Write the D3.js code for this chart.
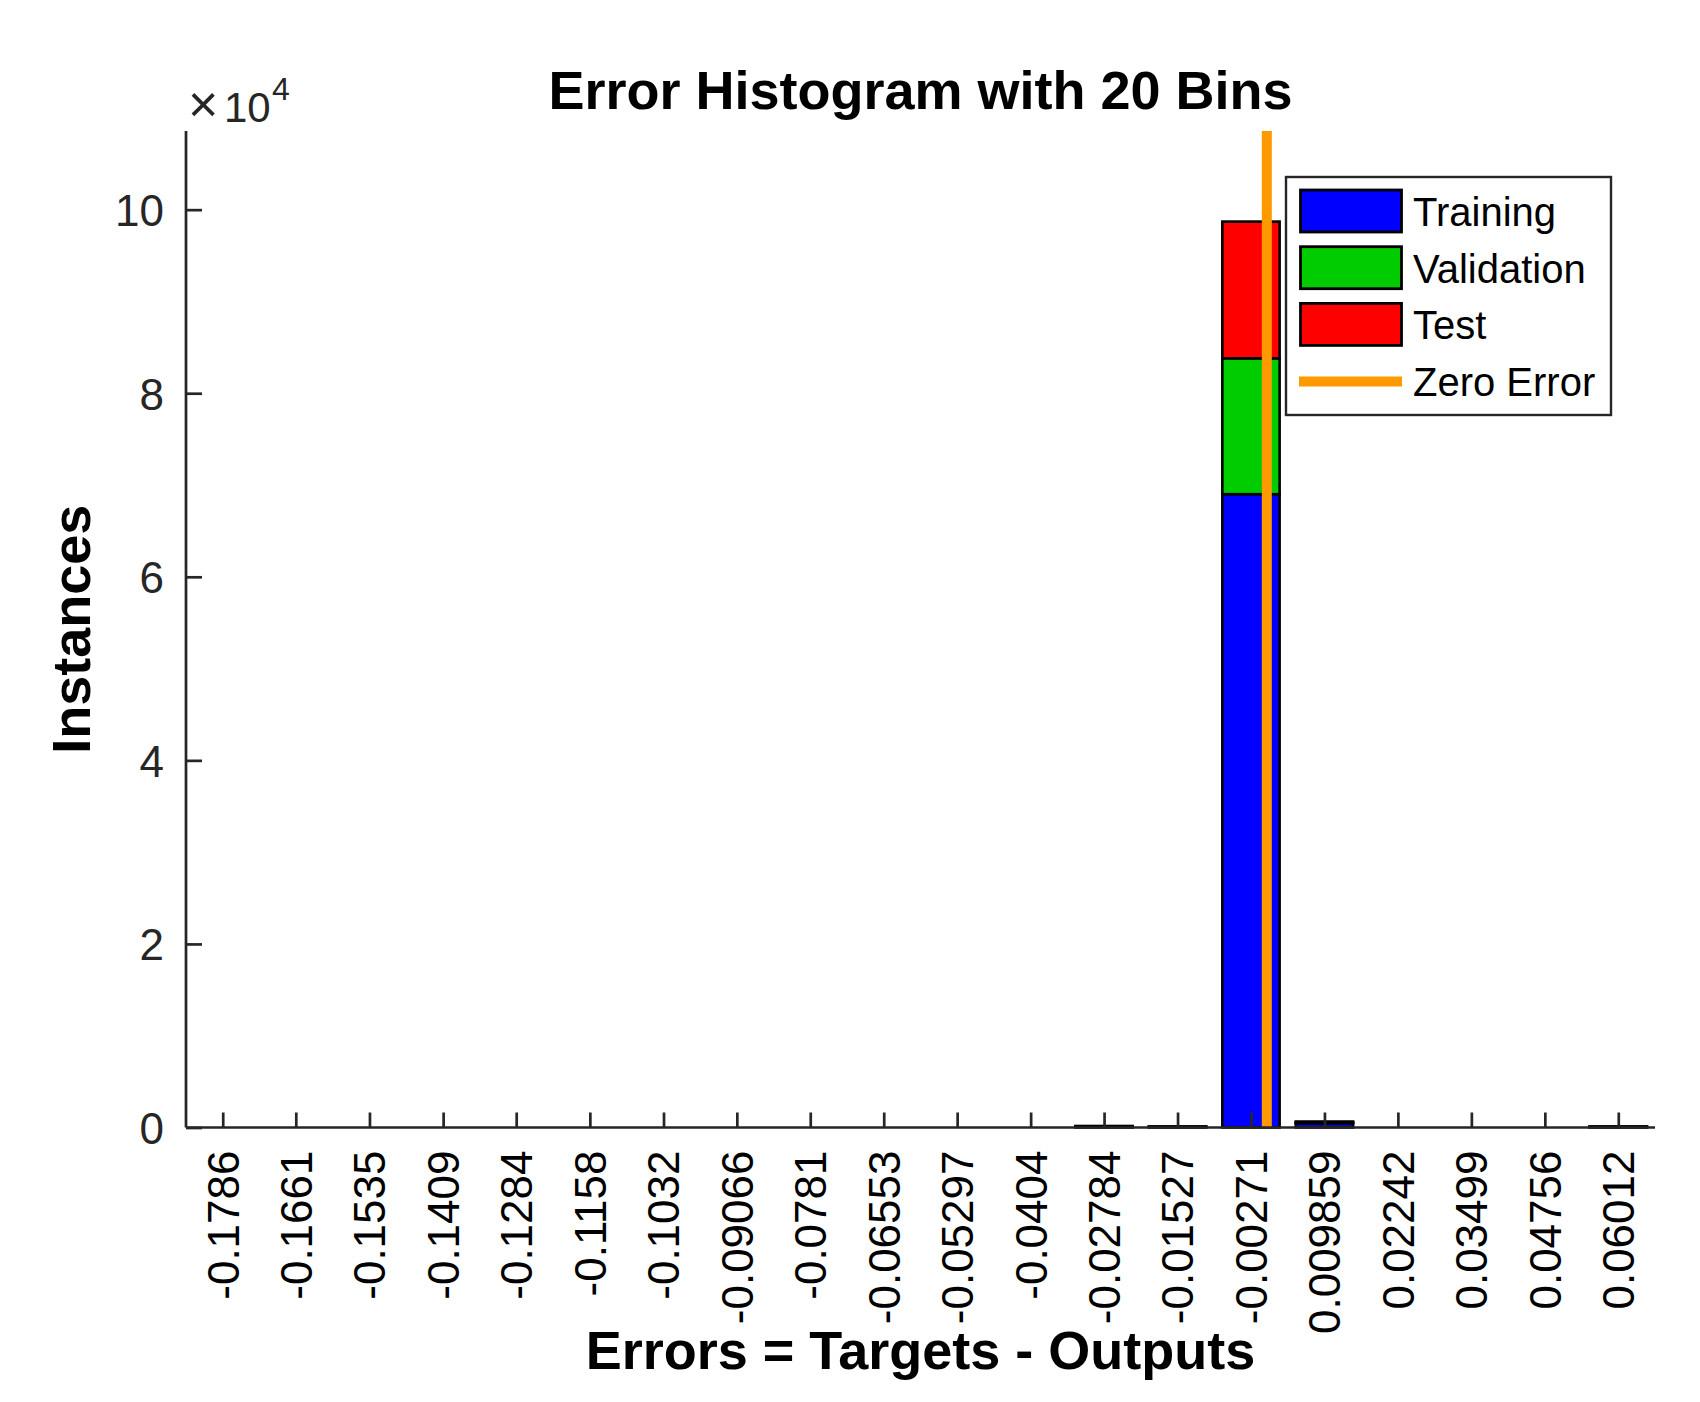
<!DOCTYPE html>
<html>
<head>
<meta charset="utf-8">
<script src="https://cdn.jsdelivr.net/npm/d3@7"></script>
<style>
  html, body { margin: 0; padding: 0; background: #fff; }
  svg { display: block; }
  text { font-family: "Liberation Sans", Arial, Helvetica, sans-serif; }
</style>
</head>
<body>
<svg id="chart" width="1700" height="1402"></svg>
<script>
// ---- Data ----
const binCenters = [-0.1786, -0.1661, -0.1535, -0.1409, -0.1284, -0.1158, -0.1032, -0.09066, -0.0781, -0.06553,
                    -0.05297, -0.0404, -0.02784, -0.01527, -0.00271, 0.009859, 0.02242, 0.03499, 0.04756, 0.06012];
const tickLabels = ["-0.1786", "-0.1661", "-0.1535", "-0.1409", "-0.1284", "-0.1158", "-0.1032", "-0.09066", "-0.0781", "-0.06553",
                    "-0.05297", "-0.0404", "-0.02784", "-0.01527", "-0.00271", "0.009859", "0.02242", "0.03499", "0.04756", "0.06012"];
const training   = [0, 0, 0, 0, 0, 0, 0, 0, 0, 0, 0, 0, 110, 70, 69000, 450, 0, 0, 0, 70];
const validation = [0, 0, 0, 0, 0, 0, 0, 0, 0, 0, 0, 0, 25, 15, 14800, 100, 0, 0, 0, 15];
const test       = [0, 0, 0, 0, 0, 0, 0, 0, 0, 0, 0, 0, 25, 15, 14900, 100, 0, 0, 0, 15];
const seriesNames = ["Training", "Validation", "Test"];
const seriesColors = ["#0000FF", "#00CC00", "#FF0000"];
const zeroErrorColor = "#FF9900";
const yTicks = [0, 20000, 40000, 60000, 80000, 100000];
const yTickLabels = ["0", "2", "4", "6", "8", "10"];

// ---- Layout ----
const svg = d3.select("#chart");
const pLeft = 186, pRight = 1655, pTop = 131, pBottom = 1127.5;
const axisColor = "#262626";

const binWidth = (binCenters[binCenters.length - 1] - binCenters[0]) / (binCenters.length - 1);
const x = d3.scaleLinear()
  .domain([binCenters[0] - binWidth / 2, binCenters[binCenters.length - 1] + binWidth / 2])
  .range([pLeft, pRight]);

const totals = binCenters.map((_, i) => training[i] + validation[i] + test[i]);
const yMax = d3.max(totals) * 1.1;
const y = d3.scaleLinear().domain([0, yMax]).range([pBottom, pTop]);

svg.append("rect").attr("width", 1700).attr("height", 1402).attr("fill", "#fff");

// ---- Stacked bars ----
const rows = binCenters.map((c, i) => ({ c, Training: training[i], Validation: validation[i], Test: test[i] }));
const stacked = d3.stack().keys(seriesNames)(rows);
const barW = 0.78 * binWidth;

stacked.forEach((layer, k) => {
  svg.append("g").selectAll("rect").data(layer).join("rect")
    .attr("x", d => x(d.data.c - barW / 2))
    .attr("width", d => x(d.data.c + barW / 2) - x(d.data.c - barW / 2))
    .attr("y", d => y(d[1]))
    .attr("height", d => Math.max(0, y(d[0]) - y(d[1])))
    .attr("fill", seriesColors[k])
    .attr("stroke", "#000")
    .attr("stroke-width", 2.6);
});

// ---- Zero error line ----
svg.append("line")
  .attr("x1", x(0)).attr("x2", x(0))
  .attr("y1", y(yMax)).attr("y2", y(0))
  .attr("stroke", zeroErrorColor).attr("stroke-width", 10);

// ---- Axes ----
const xAxis = d3.axisBottom(x).tickValues(binCenters).tickSize(-15).tickPadding(0)
  .tickFormat((d, i) => tickLabels[i]);
const gx = svg.append("g").attr("transform", `translate(0,${pBottom})`).call(xAxis);
gx.select(".domain").attr("stroke", axisColor).attr("stroke-width", 2.7).attr("d", `M${pLeft},0H${pRight}`);
gx.selectAll(".tick line").attr("stroke", axisColor).attr("stroke-width", 2.7);
gx.selectAll(".tick text")
  .attr("fill", "#000")
  .attr("font-size", 44)
  .attr("text-anchor", "end")
  .attr("transform", "translate(0,23) rotate(-90)")
  .attr("x", 0).attr("y", 0)
  .attr("dy", "0.35em");

const yAxis = d3.axisLeft(y).tickValues(yTicks).tickSize(-16).tickPadding(22)
  .tickFormat((d, i) => yTickLabels[i]);
const gy = svg.append("g").attr("transform", `translate(${pLeft},0)`).call(yAxis);
gy.select(".domain").attr("stroke", axisColor).attr("stroke-width", 2.7).attr("d", `M0,${pTop}V${pBottom}`);
gy.selectAll(".tick line").attr("stroke", axisColor).attr("stroke-width", 2.7);
gy.selectAll(".tick text").attr("fill", axisColor).attr("font-size", 44).attr("dy", "0.36em");

// exponent label
const expLabel = svg.append("text").attr("y", 122).attr("fill", axisColor);
expLabel.append("tspan").attr("x", 188).attr("font-size", 52).text("×");
expLabel.append("tspan").attr("x", 224).attr("font-size", 42).text("10");
expLabel.append("tspan").attr("x", 272).attr("y", 100).attr("font-size", 32).text("4");

// ---- Titles ----
svg.append("text").attr("x", (pLeft + pRight) / 2).attr("y", 109)
  .attr("text-anchor", "middle").attr("font-size", 54).attr("font-weight", "bold").attr("fill", "#000")
  .text("Error Histogram with 20 Bins");
svg.append("text").attr("x", (pLeft + pRight) / 2).attr("y", 1369)
  .attr("text-anchor", "middle").attr("font-size", 54).attr("font-weight", "bold").attr("fill", "#000")
  .text("Errors = Targets - Outputs");
svg.append("text").attr("transform", `translate(90,${(pTop + pBottom) / 2}) rotate(-90)`)
  .attr("text-anchor", "middle").attr("font-size", 54).attr("font-weight", "bold").attr("fill", "#000")
  .text("Instances");

// ---- Legend ----
const lg = svg.append("g");
lg.append("rect").attr("x", 1286).attr("y", 177).attr("width", 325).attr("height", 238)
  .attr("fill", "#fff").attr("stroke", axisColor).attr("stroke-width", 2.4);
const legendItems = seriesNames.map((n, i) => ({ name: n, color: seriesColors[i], type: "patch" }))
  .concat([{ name: "Zero Error", color: zeroErrorColor, type: "line" }]);
const rowH = 56.7;
legendItems.forEach((it, i) => {
  const cy = 211 + i * rowH;
  if (it.type === "patch") {
    lg.append("rect").attr("x", 1300.5).attr("y", cy - 21).attr("width", 101).attr("height", 42)
      .attr("fill", it.color).attr("stroke", "#000").attr("stroke-width", 2.8);
  } else {
    lg.append("line").attr("x1", 1299).attr("x2", 1402).attr("y1", cy + 0.5).attr("y2", cy + 0.5)
      .attr("stroke", it.color).attr("stroke-width", 10);
  }
  lg.append("text").attr("x", 1413).attr("y", cy + 15).attr("font-size", 40).attr("fill", "#000").text(it.name);
});
</script>
</body>
</html>
